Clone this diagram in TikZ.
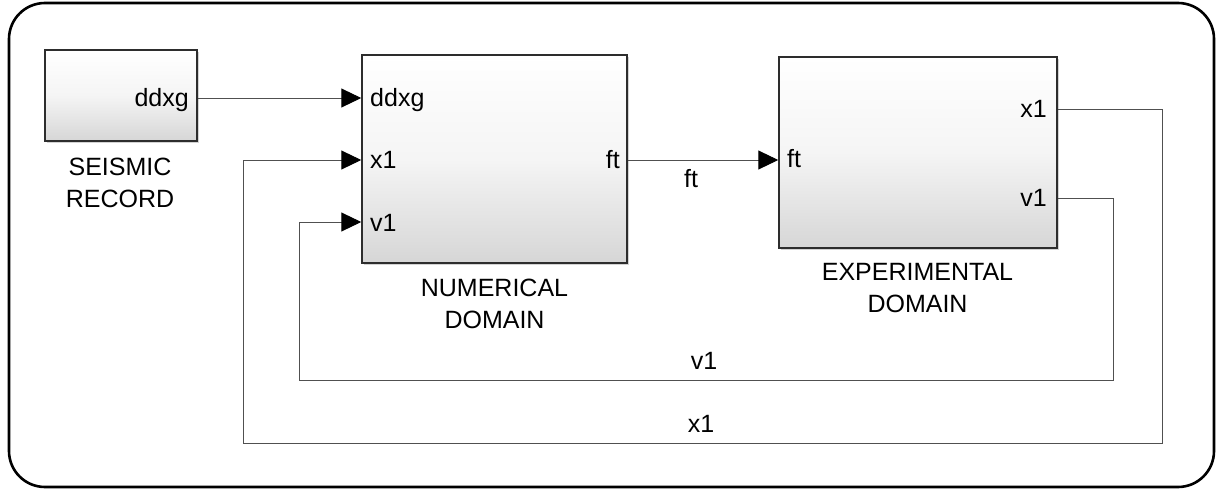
\documentclass[tikz,border=0pt]{standalone}
\usepackage{fontspec}
\setmainfont{Liberation Sans}
\usetikzlibrary{arrows.meta,shadows,positioning}
\definecolor{blockedge}{RGB}{45,45,45}
\definecolor{blockbottom}{RGB}{214,214,214}
\definecolor{wire}{RGB}{80,80,80}
\begin{document}
\begin{tikzpicture}[x=1pt,y=-1pt,
  every node/.style={font=\fontsize{25}{32}\selectfont, inner sep=0pt},
  block/.style={draw=blockedge, line width=1.5pt, top color=white, bottom color=blockbottom, middle color=white!96!black,
    drop shadow={shadow xshift=2pt, shadow yshift=-2pt, opacity=0.35}},
  portlbl/.style={anchor=base west},
  portlblr/.style={anchor=base east},
  caption/.style={align=center, anchor=base},
  wirelbl/.style={anchor=base},
  wireline/.style={draw=wire, line width=1pt},
  arrowline/.style={wireline, -{Triangle[length=20pt,width=19pt,fill=black,color=black]}}
]
\useasboundingbox (0,0) rectangle (1217,490);
\draw[line width=2.6pt, rounded corners=36pt] (9,3) rectangle (1214,487);

% blocks
\node[block, minimum width=152pt, minimum height=91pt] (seis) at (121,95.5) {};
\node[block, minimum width=265pt, minimum height=208pt] (num) at (494.5,159) {};
\node[block, minimum width=278pt, minimum height=191pt] (exp) at (918,152.5) {};

% port labels
\node[portlblr] (seisddxg) at (189,106) {ddxg};
\node[portlbl] (numddxgl) at (370,106) {ddxg};
\node[portlbl] (numx1l) at (370,168) {x1};
\node[portlbl] (numv1l) at (370,231) {v1};
\node[portlblr] (numftl) at (620,168) {ft};
\node[portlbl] (expftl) at (787,167) {ft};
\node[portlblr] (expx1l) at (1047,117) {x1};
\node[portlblr] (expv1l) at (1047,206) {v1};

% captions (base anchor = last line baseline)
\node[caption] (seiscap) at (120,207) {SEISMIC\\RECORD};
\node[caption] (numcap) at (494.5,328) {NUMERICAL\\DOMAIN};
\node[caption] (expcap) at (917.5,312) {EXPERIMENTAL\\DOMAIN};

% port coordinates
\coordinate (seisout) at (seis.east |- 0,98);
\coordinate (numin1) at (num.west |- 0,98);
\coordinate (numin2) at (num.west |- 0,160);
\coordinate (numin3) at (num.west |- 0,222);
\coordinate (numout) at (num.east |- 0,160);
\coordinate (expin) at (exp.west |- 0,160);
\coordinate (expout1) at (exp.east |- 0,109);
\coordinate (expout2) at (exp.east |- 0,198);

% connectors
\draw[arrowline] (seisout) -- (numin1);
\draw[arrowline] (numout) -- (expin);
\draw[arrowline] (expout1) -- (1162,109) -- (1162,443) -- (243,443) -- (243,160) -- (numin2);
\draw[arrowline] (expout2) -- (1113,198) -- (1113,380) -- (299,380) -- (299,222) -- (numin3);

% wire labels
\node[wirelbl] (ftlbl) at (691,187) {ft};
\node[wirelbl] (v1lbl) at (704,369) {v1};
\node[wirelbl] (x1lbl) at (701,432) {x1};
\end{tikzpicture}
\end{document}
